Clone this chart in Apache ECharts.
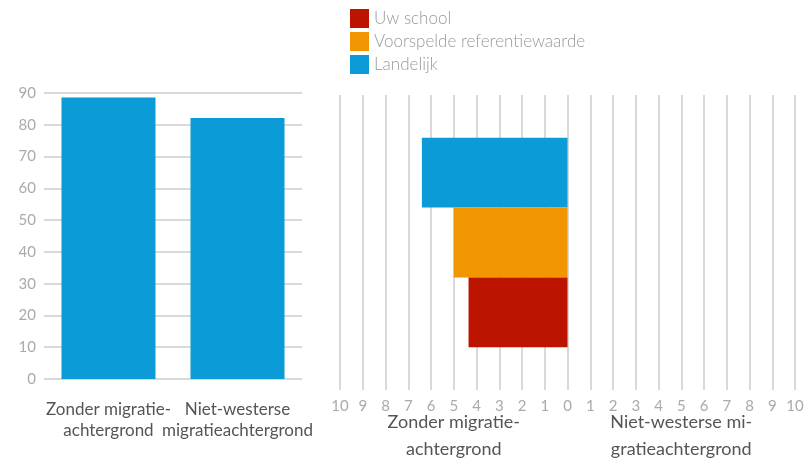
<!DOCTYPE html>
<html lang="nl">
<head>
  <meta charset="UTF-8">
  <title>Migratieachtergrond</title>
  <script src="https://cdn.jsdelivr.net/npm/echarts@6.0.0/dist/echarts.min.js"></script>
  <style>
    html, body { margin: 0; padding: 0; background: #fff; }
    #chart { width: 810px; height: 461px; }
  </style>
</head>
<body>
  <div id="chart"></div>
  <script>
    // data
    const groups = ['Zonder migratie-\nachtergrond', 'Niet-westerse\nmigratieachtergrond'];
    const groupsRight = ['Zonder migratie-\nachtergrond', 'Niet-westerse mi-\ngratieachtergrond'];
    const landelijkShare = [88.6, 82.1];
    const seriesNames = ['Uw school', 'Voorspelde referentiewaarde', 'Landelijk'];
    // afwijking t.o.v. 0, negatief = links (Zonder migratieachtergrond)
    const zonderValues = [-4.35, -5.0, -6.4];
    const colors = ['#bd1400', '#f19500', '#0b9bd6'];

    const font = 'Lato, "Open Sans", sans-serif';
    const chart = echarts.init(document.getElementById('chart'));

    // bovenste balk = Landelijk, dus in omgekeerde volgorde tekenen
    const rightSeries = seriesNames.map((name, i) => ({
      name: name, type: 'bar', xAxisIndex: 1, yAxisIndex: 1,
      data: [zonderValues[i]],
      barGap: '0%', barCategoryGap: '29%',
      itemStyle: { color: colors[i] }
    })).reverse();

    chart.setOption({
      animation: false,
      textStyle: { fontFamily: font },
      legend: {
        data: seriesNames,
        orient: 'vertical',
        left: 345, top: 4,
        itemWidth: 19, itemHeight: 19, itemGap: 4,
        icon: 'rect',
        textStyle: { color: '#999', fontSize: 17, fontFamily: font, fontWeight: 300 }
      },
      grid: [
        { left: 44, width: 258, top: 93, bottom: 82, outerBoundsMode: 'none' },
        { left: 340, right: 15, top: 95, bottom: 71, outerBoundsMode: 'none' }
      ],
      xAxis: [
        {
          gridIndex: 0, type: 'category', data: groups,
          axisLine: { show: false }, axisTick: { show: false },
          axisLabel: { interval: 0, color: '#555', fontSize: 17, lineHeight: 21, margin: 20 }
        },
        {
          gridIndex: 1, type: 'value', min: -10, max: 10, interval: 1,
          axisLine: { show: false }, axisTick: { show: false },
          splitLine: { lineStyle: { color: '#cccccc', width: 1.5 } },
          axisLabel: { color: '#aaa', fontSize: 15, margin: 9, formatter: v => Math.abs(v) }
        },
        {
          gridIndex: 1, type: 'category', data: groupsRight, position: 'bottom', offset: 13,
          axisLine: { show: false }, axisTick: { show: false }, splitLine: { show: false },
          axisLabel: { interval: 0, color: '#555', fontSize: 18, lineHeight: 27, margin: 6 }
        }
      ],
      yAxis: [
        {
          gridIndex: 0, type: 'value', min: 0, max: 90, interval: 10,
          axisLine: { show: false }, axisTick: { show: false },
          splitLine: { lineStyle: { color: '#cccccc', width: 1.5 } },
          axisLabel: { color: '#aaa', fontSize: 15, margin: 8 }
        },
        {
          gridIndex: 1, type: 'category', data: [''],
          axisLine: { show: false }, axisTick: { show: false }, axisLabel: { show: false }
        }
      ],
      series: [
        {
          name: 'Landelijk', type: 'bar', xAxisIndex: 0, yAxisIndex: 0,
          data: landelijkShare, barWidth: 94,
          itemStyle: { color: colors[2] }
        }
      ].concat(rightSeries)
    });
  </script>
</body>
</html>
